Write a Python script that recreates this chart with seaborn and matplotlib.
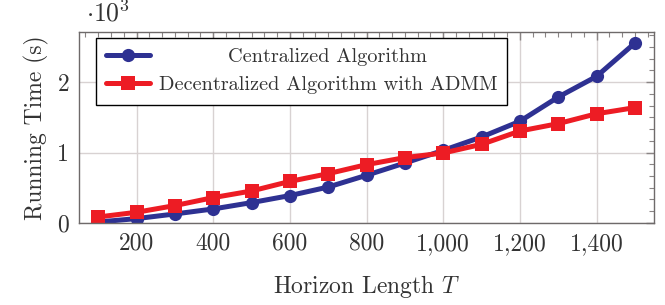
import numpy as np
import pandas as pd
import matplotlib
matplotlib.use("Agg")
import matplotlib.pyplot as plt
import seaborn as sns
from matplotlib.ticker import MultipleLocator, FuncFormatter, AutoMinorLocator

horizon = [100, 200, 300, 400, 500, 600, 700, 800, 900, 1000, 1100, 1200, 1300, 1400, 1500]
centralized = [0.014, 0.062, 0.128, 0.199, 0.289, 0.389, 0.51, 0.677, 0.851, 1.03, 1.22, 1.443, 1.787, 2.08, 2.553]
decentralized = [0.085, 0.152, 0.247, 0.36, 0.454, 0.59, 0.70, 0.828, 0.928, 0.993, 1.116, 1.305, 1.41, 1.55, 1.637]
series_names = ["Centralized Algorithm", "Decentralized Algorithm with ADMM"]

df = pd.DataFrame({
    "T": horizon * 2,
    "time": centralized + decentralized,
    "method": [series_names[0]] * len(horizon) + [series_names[1]] * len(horizon),
})

sns.set_theme(style="white")
plt.rcParams["font.family"] = ["cmr10", "DejaVu Serif"]
plt.rcParams["mathtext.fontset"] = "cm"
plt.rcParams["axes.unicode_minus"] = False

fig = plt.figure(figsize=(6.65, 3.05), dpi=100)
ax = fig.add_axes([0.1188, 0.2689, 0.8647, 0.6261])

palette = {series_names[0]: "#2e3192", series_names[1]: "#ed1c24"}
markers = {series_names[0]: "o", series_names[1]: "s"}
sns.lineplot(data=df, x="T", y="time", hue="method", style="method",
             palette=palette, markers=markers, dashes=False,
             linewidth=3.6, markersize=9.5, markeredgewidth=0, ax=ax)

ax.set_xlim(50, 1550)
ax.set_ylim(0, 2.71)
ax.xaxis.set_major_locator(MultipleLocator(200))
ax.xaxis.set_minor_locator(AutoMinorLocator(6))
ax.yaxis.set_major_locator(MultipleLocator(1))
ax.yaxis.set_minor_locator(AutoMinorLocator(6))
ax.xaxis.set_major_formatter(FuncFormatter(lambda v, p: f"{v:,.0f}"))
ax.yaxis.set_major_formatter(FuncFormatter(lambda v, p: f"{v:.0f}"))

ax.grid(True, which="major", color="#d8d2d2", linewidth=1.0)
ax.set_axisbelow(True)
for s in ax.spines.values():
    s.set_color("#6e6a6a")
    s.set_linewidth(1.0)
ax.tick_params(which="both", direction="in", top=True, right=True,
               color="#8a8585", labelsize=17, labelcolor="#333333")
ax.tick_params(which="major", length=6, width=1.0, pad=7)
ax.tick_params(which="minor", length=3.5, width=0.8)

ax.set_xlabel(r"Horizon Length $T$", fontsize=17, color="#333333", labelpad=13)
ax.set_ylabel("Running Time (s)", fontsize=17, color="#333333", labelpad=6)
ax.text(0.012, 1.03, r"$\cdot 10^3$", transform=ax.transAxes, fontsize=18.5,
        color="#333333", ha="left", va="bottom")

leg = ax.legend(loc="upper left", bbox_to_anchor=(0.029, 0.97), fontsize=14.6,
                frameon=True, fancybox=False, edgecolor="black", framealpha=1,
                handlelength=2.2, borderpad=0.5, labelspacing=0.5,
                handletextpad=0.4, borderaxespad=0)
leg.get_frame().set_linewidth(1.0)
texts = leg.get_texts()
for t in texts:
    t.set_color("#333333")

# center the legend labels within the label column
fig.canvas.draw()
widths = [t.get_window_extent().width for t in texts]
wmax = max(widths)
for t, w in zip(texts, widths):
    t.set_position(((wmax - w) / 2.0, 0))

fig.savefig("out.png", dpi=100)
